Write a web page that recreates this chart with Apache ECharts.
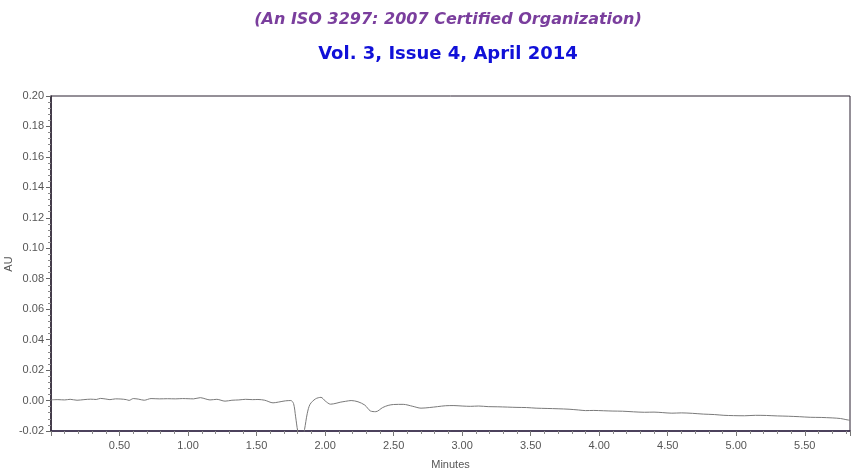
<!DOCTYPE html>
<html>
<head>
<meta charset="utf-8">
<script src="https://cdn.jsdelivr.net/npm/echarts@6/dist/echarts.min.js"></script>
<style>
html,body{margin:0;padding:0;background:#fff;}
#chart{width:857px;height:470px;}
</style>
</head>
<body>
<div id="chart"></div>
<script>
const titleLine1 = "(An ISO 3297: 2007 Certified Organization)";
const titleLine2 = "Vol. 3, Issue 4, April 2014";
const xAxisName = "Minutes";
const yAxisName = "AU";

const minutes = [
  0.00,0.05,0.10,0.14,0.19,0.24,0.29,0.33,0.36,0.40,0.43,0.47,0.51,0.55,0.57,0.60,0.64,0.68,0.73,0.79,
  0.85,0.91,0.96,1.00,1.04,1.09,1.13,1.16,1.21,1.27,1.32,1.37,1.42,1.47,1.51,1.56,1.62,1.66,1.71,1.75,
  1.77,1.785,1.80,1.815,1.835,1.85,1.87,1.89,1.93,1.97,2.00,2.04,2.08,2.11,2.15,2.19,2.24,2.29,2.33,2.37,
  2.42,2.46,2.50,2.57,2.64,2.70,2.76,2.82,2.88,2.94,3.00,3.06,3.12,3.19,3.26,3.33,3.40,3.47,3.54,3.62,
  3.70,3.78,3.85,3.90,3.96,4.03,4.10,4.17,4.25,4.33,4.40,4.46,4.53,4.60,4.68,4.76,4.84,4.91,4.98,5.06,
  5.14,5.22,5.30,5.38,5.46,5.54,5.62,5.70,5.76,5.80,5.83
];
const au = [
  0.0005,0.0006,0.0004,0.0008,0.0002,0.0006,0.0009,0.0007,0.0014,0.0010,0.0006,0.0011,0.0010,0.0006,0.0001,0.0013,0.0009,0.0002,0.0013,0.0011,
  0.0012,0.0011,0.0013,0.0012,0.0011,0.0019,0.0010,0.0004,0.0008,-0.0004,0.0002,0.0004,0.0008,0.0006,0.0007,0.0002,-0.0015,-0.0010,-0.0002,0.0000,
  -0.0020,-0.0107,-0.0200,-0.0250,-0.0250,-0.0190,-0.0084,-0.0025,0.0011,0.0021,-0.0002,-0.0024,-0.0018,-0.0011,-0.0005,0.0000,-0.0008,-0.0030,-0.0068,-0.0073,
  -0.0046,-0.0032,-0.0026,-0.0025,-0.0038,-0.0050,-0.0046,-0.0040,-0.0034,-0.0033,-0.0036,-0.0038,-0.0036,-0.0040,-0.0041,-0.0043,-0.0045,-0.0046,-0.0050,-0.0052,
  -0.0054,-0.0057,-0.0062,-0.0066,-0.0065,-0.0067,-0.0069,-0.0070,-0.0074,-0.0077,-0.0076,-0.0079,-0.0083,-0.0081,-0.0084,-0.0089,-0.0092,-0.0097,-0.0099,-0.0100,
  -0.0097,-0.0098,-0.0101,-0.0103,-0.0106,-0.0110,-0.0111,-0.0114,-0.0118,-0.0125,-0.0130
];

const chart = echarts.init(document.getElementById('chart'), null, {renderer:'canvas'});
const axisFont = 'Liberation Sans, Arial, sans-serif';
chart.setOption({
  animation: false,
  backgroundColor: '#ffffff',
  title: [
    {text: titleLine1, left: 443, textAlign: 'center', top: 7,
     textStyle: {fontFamily: 'DejaVu Sans, sans-serif', fontSize: 16, fontWeight: 'bold', fontStyle: 'italic', color: '#7a3e9d'}},
    {text: titleLine2, left: 443, textAlign: 'center', top: 40,
     textStyle: {fontFamily: 'DejaVu Sans, sans-serif', fontSize: 18, fontWeight: 'bold', color: '#1010d8'}}
  ],
  graphic: [{
    type: 'text', x: 9, y: 264, rotation: Math.PI / 2,
    style: {text: yAxisName, fill: '#555', font: '11px Liberation Sans, Arial, sans-serif',
            align: 'center', verticalAlign: 'middle'}
  }],
  grid: {left: 51, right: 7, top: 96, bottom: 39, show: true, borderColor: '#2a2030', borderWidth: 1,
         backgroundColor: 'transparent', containLabel: false, outerBoundsMode: 'none'},
  xAxis: {
    type: 'value', min: 0, max: 5.83, interval: 0.5,
    name: xAxisName, nameLocation: 'middle', nameGap: 28, nameMoveOverlap: false,
    nameTextStyle: {fontFamily: axisFont, fontSize: 11, color: '#555'},
    axisLine: {onZero: false, lineStyle: {color: '#35284a', width: 1.5}},
    axisTick: {show: true, length: 5, lineStyle: {color: '#777'}},
    minorTick: {show: true, splitNumber: 5, length: 3, lineStyle: {color: '#888'}},
    splitLine: {show: false},
    axisLabel: {fontFamily: axisFont, fontSize: 11, color: '#555', margin: 9, showMaxLabel: false,
      formatter: v => (v === 0 || v > 5.8) ? '' : v.toFixed(2)}
  },
  yAxis: {
    type: 'value', min: -0.02, max: 0.20, interval: 0.02,
    axisLine: {show: true, onZero: false, lineStyle: {color: '#2a2030', width: 1.5}},
    axisTick: {show: true, length: 5, lineStyle: {color: '#666'}},
    minorTick: {show: true, splitNumber: 5, length: 3, lineStyle: {color: '#888'}},
    splitLine: {show: false},
    axisLabel: {fontFamily: axisFont, fontSize: 11, color: '#555', margin: 7,
      formatter: v => v.toFixed(2)}
  },
  series: [{
    type: 'line',
    data: minutes.map((m, i) => [m, au[i]]),
    showSymbol: false, symbol: 'none', smooth: 0.3, clip: true,
    lineStyle: {color: '#7a7a7a', width: 1}
  }]
});
</script>
</body>
</html>
